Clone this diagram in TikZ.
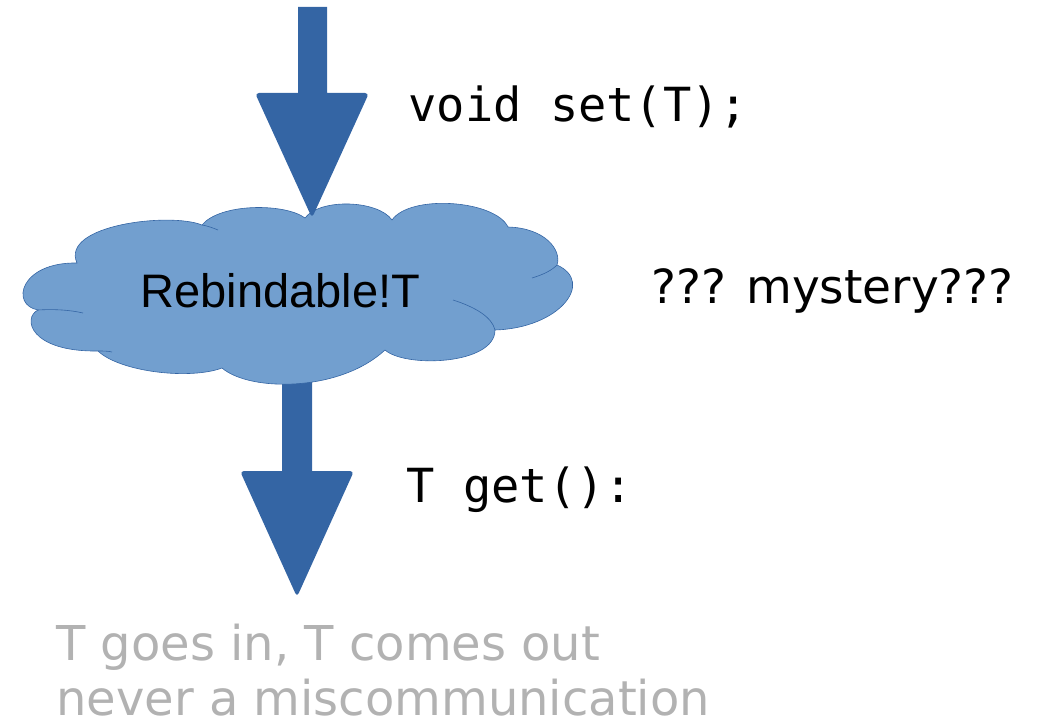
\documentclass[tikz,border=0pt]{standalone}
\usepackage{fontspec}
\setmainfont{DejaVu Sans}
\newfontfamily\codefont{DejaVu Sans Mono}
\newfontfamily\cloudfont{Liberation Sans}
\usepackage{xcolor}

\definecolor{arrowblue}{HTML}{3465A4}
\definecolor{cloudblue}{HTML}{729FCF}
\definecolor{notegray}{HTML}{B2B2B2}

\begin{document}
\begin{tikzpicture}[
  x=1pt, y=-1pt,
  fat/.style={fill=arrowblue},
  blob/.style={draw=arrowblue, line width=0.6pt, fill=cloudblue},
  crease/.style={draw=arrowblue, line width=0.6pt},
  big/.style={font=\fontsize{47}{55}\selectfont},
  every node/.style={anchor=base west}
]
\useasboundingbox (0,0) rectangle (1041,719);

% arrow out of the cloud (behind it)
\fill[fat] (282,375) -- (312,375) -- (312,471) [rounded corners=4pt] -- (354,471) -- (297,597) -- (240,471) [sharp corners] -- (282,471) -- cycle;

% the cloud, puff by puff
\filldraw[blob] (77,263) .. controls (20,262) and (10,305) .. (38,310)
  .. controls (22,318) and (30,352) .. (98,351)
  .. controls (120,372) and (190,380) .. (222,368)
  .. controls (250,392) and (340,392) .. (385,350)
  .. controls (405,368) and (495,365) .. (495,330)
  .. controls (560,328) and (595,282) .. (557,265)
  .. controls (562,250) and (545,228) .. (508,227)
  .. controls (495,200) and (410,194) .. (392,220)
  .. controls (378,200) and (320,198) .. (305,218)
  .. controls (285,203) and (220,203) .. (202,225)
  .. controls (170,212) and (60,225) .. (77,263) -- cycle;
\draw[crease] (38,310) .. controls (55,309) and (70,310) .. (83,313);
\draw[crease] (98,351) .. controls (103,351) and (108,351) .. (112,352);
\draw[crease] (453,300) .. controls (475,307) and (492,317) .. (495,330);
\draw[crease] (532,278) .. controls (545,274) and (552,270) .. (557,265);
\draw[crease] (202,225) .. controls (208,226) and (213,228) .. (218,230);

\node[big] (name) at (137,307) {\cloudfont Rebindable!T};

% arrow into the cloud
\fill[fat] (298,7) -- (327,7) -- (327,93) [rounded corners=4pt] -- (369,93) -- (312,218) -- (255,93) [sharp corners] -- (298,93) -- cycle;

\node[big] (setter) at (405,122) {\codefont void set(T);};
\node[big] (getter) at (403,502) {\codefont T get():};
\node[big] (mystery) at (648,304) {??? mystery???};
\node[font=\fontsize{48}{55}\selectfont, text=notegray, align=left, inner sep=0pt, text depth=0pt] (motto) at (56,715) {T goes in, T comes out\\never a miscommunication};
\end{tikzpicture}
\end{document}
